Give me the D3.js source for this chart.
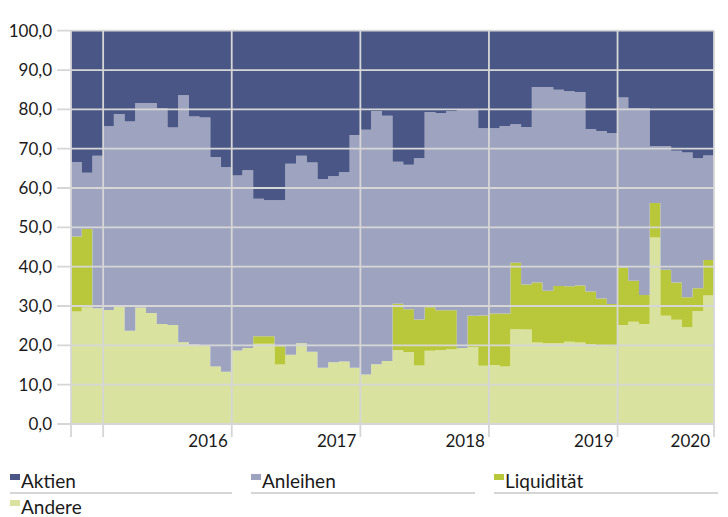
<!DOCTYPE html>
<meta charset="utf-8">
<head>
<style>
  body { margin: 0; background: #fff; }
  text { font-family: Lato, "Open Sans", sans-serif; fill: #1a1a1a; }
</style>
</head>
<script src="https://d3js.org/d3.v7.min.js"></script>
<div id="chart"></div>
<script>

// monthly shares in %, Oct 2015 .. Sep 2020
var andere = [28.6,29.6,29.4,29.0,29.9,23.7,29.6,28.2,25.4,25.2,20.8,20.2,20.1,14.6,13.3,18.7,19.3,20.4,20.4,15.1,
              17.6,20.5,18.4,14.3,15.7,15.9,14.3,12.6,15.2,16.0,18.8,18.3,14.9,18.6,18.8,19.0,19.3,19.6,14.8,15.0,
              14.6,24.1,24.0,20.7,20.5,20.5,20.9,20.7,20.3,19.9,19.8,25.2,26.0,25.4,47.4,27.5,26.5,24.6,28.7,32.7];
var liquiditaet = [19.1,20.0,0,0,0,0,0,0,0,0,0,0,0,0,0,0,0,1.9,1.9,4.7,
              0,0,0,0,0,0,0,0,0,0,11.8,10.9,11.7,11.1,10.1,9.9,0,7.9,12.8,13.1,
              13.5,16.9,11.5,15.3,13.4,14.6,14.1,14.5,13.4,12.0,10.7,14.6,10.4,7.4,8.8,11.7,9.5,7.6,5.8,9.0];
var anleihen = [18.9,14.3,38.8,46.7,48.9,53.2,52.0,53.4,54.9,50.2,62.8,58.0,57.8,53.3,52.0,44.5,45.2,35.0,34.6,37.1,
              48.6,47.7,48.1,48.0,47.3,48.1,59.2,62.2,64.4,62.4,36.1,36.7,41.0,49.6,50.1,50.6,60.5,52.3,47.6,47.1,
              47.7,35.2,40.0,49.7,51.8,49.9,49.6,49.2,41.3,42.6,43.4,43.2,43.9,47.5,14.4,31.4,33.5,36.8,33.1,26.6];
var aktien = [33.4,36.1,31.8,24.3,21.2,23.1,18.4,18.4,19.7,24.6,16.4,21.8,22.1,32.1,34.7,36.8,35.5,42.7,43.1,43.1,
              33.8,31.8,33.5,37.7,37.0,36.0,26.5,25.2,20.4,21.6,33.3,34.1,32.4,20.7,21.0,20.5,20.2,20.2,24.8,24.8,
              24.2,23.8,24.5,14.3,14.3,15.0,15.4,15.6,25.0,25.5,26.1,17.0,19.7,19.7,29.4,29.4,30.5,31.0,32.4,31.7];

var seriesNames = ["Aktien", "Anleihen", "Liquidität", "Andere"];
var yearLabels = ["2016", "2017", "2018", "2019", "2020"];
var firstMonth = new Date(2015, 9, 1);

var colors = {
  "Aktien": "#4a5786",
  "Anleihen": "#9ea4bf",
  "Liquidität": "#b9c83a",
  "Andere": "#d9e39f"
};

var months = d3.timeMonth.range(firstMonth, d3.timeMonth.offset(firstMonth, andere.length));
var rows = months.map(function(m, i) {
  return { i: i, date: m, "Andere": andere[i], "Liquidität": liquiditaet[i], "Anleihen": anleihen[i], "Aktien": aktien[i] };
});
// step areas need one closing point
var last = Object.assign({}, rows[rows.length - 1]);
last.i = rows.length;
var stepRows = rows.concat([last]);

var W = 728, H = 517;
var plotLeft = 71, plotRight = 714, plotTop = 30.7, plotBottom = 424;

var svg = d3.select("#chart").append("svg")
  .attr("width", W).attr("height", H);

var x = d3.scaleLinear().domain([0, rows.length]).range([plotLeft, plotRight]);
var y = d3.scaleLinear().domain([0, 100]).range([plotBottom, plotTop]);

var stack = d3.stack().keys(["Andere", "Liquidität", "Anleihen", "Aktien"]);
var layers = stack(stepRows);

var area = d3.area()
  .curve(d3.curveStepAfter)
  .x(function(d) { return x(d.data.i); })
  .y0(function(d) { return y(d[0]); })
  .y1(function(d) { return y(d[1]); });

svg.append("g").selectAll("path")
  .data(layers)
  .enter().append("path")
    .attr("d", area)
    .attr("fill", function(d) { return colors[d.key]; });

// grid
var gridColor = "#d6d6d6";
var fmt = d3.formatLocale({ decimal: ",", thousands: ".", grouping: [3], currency: ["", "€"] }).format(".1f");

svg.append("g").selectAll("line")
  .data(d3.range(0, 101, 10))
  .enter().append("line")
    .attr("x1", plotLeft - 14).attr("x2", plotRight)
    .attr("y1", function(d) { return y(d); }).attr("y2", function(d) { return y(d); })
    .attr("stroke", gridColor).attr("stroke-width", 1.8);

svg.append("g").selectAll("text")
  .data(d3.range(0, 101, 10))
  .enter().append("text")
    .attr("x", 52)
    .attr("y", function(d) { return y(d); })
    .attr("dy", "0.36em")
    .attr("text-anchor", "end")
    .style("font-size", "17px")
    .text(function(d) { return fmt(d); });

// year boundaries: January of each year, plus both ends
var yearStarts = months.map(function(m, i) { return m.getMonth() === 0 ? i : null; })
  .filter(function(v) { return v !== null; });
var vlines = [0].concat(yearStarts, [rows.length]);

svg.append("g").selectAll("line")
  .data(vlines)
  .enter().append("line")
    .attr("x1", function(d) { return x(d); }).attr("x2", function(d) { return x(d); })
    .attr("y1", plotTop).attr("y2", plotBottom + 13)
    .attr("stroke", gridColor).attr("stroke-width", 1.8);

svg.append("g").selectAll("text")
  .data(yearLabels)
  .enter().append("text")
    .attr("x", function(d, k) { return x(Math.min(yearStarts[k] + 12, rows.length)) - 4; })
    .attr("y", 447)
    .attr("text-anchor", "end")
    .style("font-size", "17px")
    .text(function(d) { return d; });

// legend
var legendPos = [
  { x: 10, y: 481, w: 222 },
  { x: 251, y: 481, w: 224 },
  { x: 494, y: 481, w: 224 },
  { x: 10, y: 507, w: 0 }
];
var lg = svg.append("g").selectAll("g")
  .data(seriesNames)
  .enter().append("g")
    .attr("transform", function(d, k) { return "translate(" + legendPos[k].x + "," + legendPos[k].y + ")"; });

lg.append("rect")
  .attr("x", 0).attr("y", -7)
  .attr("width", 10).attr("height", 6)
  .attr("fill", function(d) { return colors[d]; });

lg.append("text")
  .attr("x", 11).attr("y", 0)
  .attr("dy", "0.36em")
  .style("font-size", "19px")
  .text(function(d) { return d; });

lg.filter(function(d, k) { return legendPos[k].w > 0; })
  .append("line")
    .attr("x1", 0).attr("x2", function(d) { return legendPos[seriesNames.indexOf(d)].w; })
    .attr("y1", 12).attr("y2", 12)
    .attr("stroke", gridColor).attr("stroke-width", 2);

</script>
